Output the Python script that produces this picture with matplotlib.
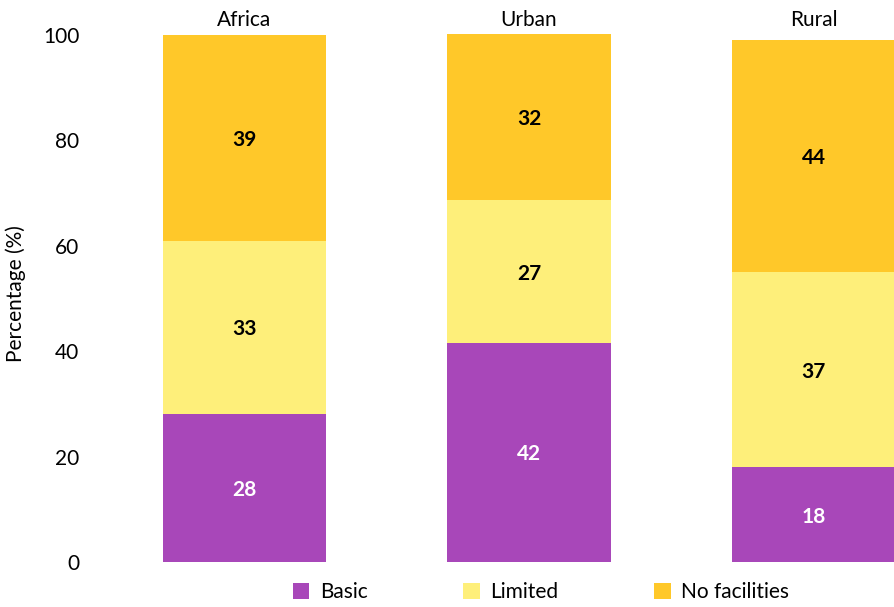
import matplotlib
matplotlib.use("Agg")
import matplotlib.pyplot as plt
import numpy as np

plt.rcParams['font.family'] = ['Lato', 'DejaVu Sans']

# data
categories = ["Africa", "Urban", "Rural"]
series_names = ["Basic", "Limited", "No facilities"]
basic = [28.1, 41.6, 18.0]
limited = [32.8, 27.0, 37.0]
no_facilities = [39.1, 31.6, 44.0]
yticks = [0, 20, 40, 60, 80, 100]

# colours
colors = ["#A847B9", "#FEEF7A", "#FFC829"]
label_colors = ["white", "black", "black"]

fig = plt.figure(figsize=(8.95, 6.07), dpi=100)
ax = fig.add_axes([100 / 895, 45 / 607, 795 / 895, (102 * 5.27) / 607])

x = np.arange(len(categories))
bar_width = 0.573
bottom = np.zeros(len(categories))
handles = []
for name, vals, c, lc in zip(series_names, [basic, limited, no_facilities], colors, label_colors):
    bars = ax.bar(x, vals, bar_width, bottom=bottom, color=c, label=name, linewidth=0)
    handles.append(bars)
    for xi, b, v in zip(x, bottom, vals):
        ax.text(xi, b + v / 2, f"{v:.0f}", ha="center", va="center_baseline",
                fontsize=15, fontweight="bold", color=lc)
    bottom += np.array(vals)

# category names above bars
for xi, cat in zip(x, categories):
    ax.text(xi, 102.8, cat, ha="center", va="center", fontsize=15, clip_on=False)

ax.set_xlim((100 - 244.5) / 284.5, (895 - 244.5) / 284.5)
ax.set_ylim(0, 102)
ax.set_yticks(yticks)
ax.set_yticklabels([str(t) for t in yticks])
ax.set_xticks([])
ax.tick_params(axis='y', length=0, labelsize=15, pad=15)
for s in ax.spines.values():
    s.set_visible(False)

ax.set_ylabel("Percentage (%)", fontsize=15, labelpad=12)

fig.legend(handles=handles, labels=series_names, loc="center",
           bbox_to_anchor=(541 / 895, 1 - 592 / 607), ncol=3, frameon=False,
           fontsize=15, handlelength=0.8, handleheight=0.8, columnspacing=4.6,
           handletextpad=0.5)

fig.savefig("out.png", dpi=100)
